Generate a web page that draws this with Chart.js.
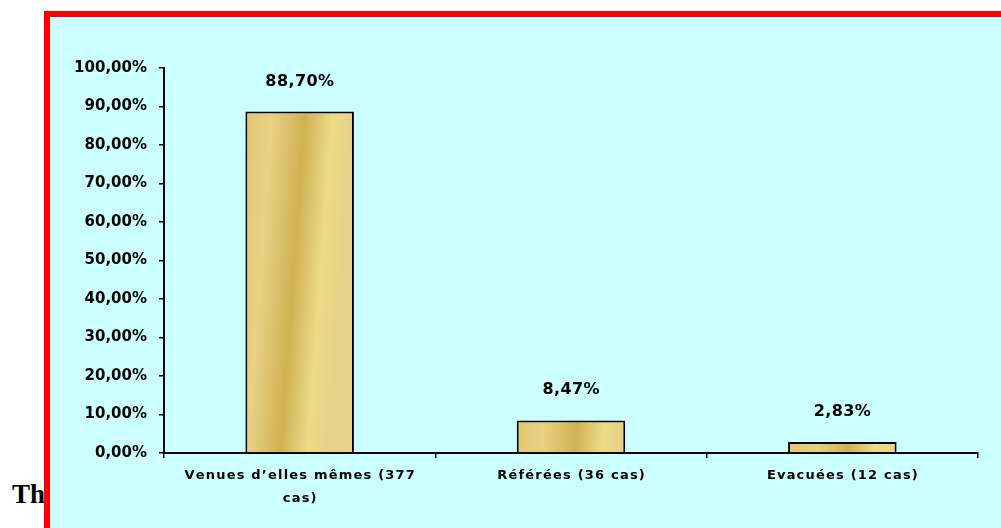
<!DOCTYPE html>
<html>
<head>
<meta charset="utf-8">
<script src="https://cdn.jsdelivr.net/npm/chart.js@4/dist/chart.umd.min.js"></script>
<style>
  html, body { margin: 0; padding: 0; background: #ffffff; width: 1001px; height: 528px; overflow: hidden; }
  #note { position: absolute; left: 12px; top: 479px; font-family: "Liberation Serif", "Times New Roman", serif; font-weight: bold; font-size: 27px; color: #000; white-space: nowrap; }
  #box { position: absolute; left: 44px; top: 11px; width: 1000px; height: 560px; border: 6px solid #ff0000; background: #ccffff; }
  #wrap { position: absolute; left: 0; top: 0; width: 951px; height: 511px; }
</style>
</head>
<body>
<div id="note">The</div>
<div id="box">
  <div id="wrap"><canvas id="c" width="951" height="511"></canvas></div>
</div>
<script>
const categories = [["Venues d’elles mêmes (377", "cas)"], "Référées (36 cas)", "Evacuées (12 cas)"];
const values = [88.70, 8.47, 2.83];
const valueLabels = ["88,70%", "8,47%", "2,83%"];
const yTicks = ["0,00%", "10,00%", "20,00%", "30,00%", "40,00%", "50,00%", "60,00%", "70,00%", "80,00%", "90,00%", "100,00%"];

function spacedText(ctx, text, cx, y, spacing) {
  const chars = Array.from(text);
  const widths = chars.map(c => ctx.measureText(c).width);
  const total = widths.reduce((a, b) => a + b, 0) + spacing * (chars.length - 1);
  let x = cx - total / 2;
  ctx.textAlign = 'left';
  chars.forEach((c, i) => { ctx.fillText(c, x, y); x += widths[i] + spacing; });
}

function barFill(context) {
  const chart = context.chart;
  const xs = chart.scales.x, ys = chart.scales.y;
  if (!xs || !ys || !xs.width) return '#d8bd62';
  const i = context.dataIndex;
  const center = xs.getPixelForValue(i);
  const w = (xs.width / categories.length) * 0.4;
  const x0 = center - w / 2, x1 = center + w / 2;
  const top = ys.getPixelForValue(values[i]);
  const g = chart.ctx.createLinearGradient(x0, top, x1, top + 8);
  g.addColorStop(0, '#e0c772');
  g.addColorStop(0.25, '#e7d283');
  g.addColorStop(0.55, '#d0b152');
  g.addColorStop(0.8, '#eddb87');
  g.addColorStop(1, '#e6d288');
  return g;
}

const labelPlugin = {
  id: 'labels',
  afterDraw(chart) {
    const ctx = chart.ctx;
    const meta = chart.getDatasetMeta(0);
    const xs = chart.scales.x;
    ctx.save();
    ctx.fillStyle = '#000';
    ctx.textBaseline = 'alphabetic';
    ctx.font = 'bold 16px "DejaVu Sans"';
    meta.data.forEach((bar, i) => {
      spacedText(ctx, valueLabels[i], bar.x, bar.y - 26, 0.4);
    });
    ctx.font = 'bold 13px "DejaVu Sans"';
    categories.forEach((lab, i) => {
      const lines = Array.isArray(lab) ? lab : [lab];
      const cx = xs.getPixelForTick(i);
      lines.forEach((ln, j) => spacedText(ctx, ln, cx, xs.top + 26 + j * 23, 1.2));
    });
    ctx.restore();
  }
};

new Chart(document.getElementById('c'), {
  type: 'bar',
  data: {
    labels: categories,
    datasets: [{
      data: values,
      backgroundColor: barFill,
      borderColor: '#000000',
      borderWidth: 2,
      borderSkipped: 'start',
      barPercentage: 0.4,
      categoryPercentage: 1.0
    }]
  },
  options: {
    responsive: false,
    animation: false,
    devicePixelRatio: 1,
    layout: { padding: { top: 51, right: 23, left: 0, bottom: 0 } },
    plugins: { legend: { display: false }, tooltip: { enabled: false } },
    scales: {
      x: {
        grid: { offset: true, drawOnChartArea: false, tickLength: 5, color: '#000', lineWidth: 1.5 },
        border: { color: '#000', width: 2 },
        ticks: { color: 'rgba(0,0,0,0)', font: { family: 'DejaVu Sans', weight: 'bold', size: 12 }, padding: 7, maxRotation: 0, autoSkip: false },
        afterFit(s) { s.height = 75; }
      },
      y: {
        min: 0, max: 100,
        grid: { drawOnChartArea: false, tickLength: 5, color: '#000', lineWidth: 1.5 },
        border: { color: '#000', width: 2 },
        ticks: {
          stepSize: 10,
          color: '#000',
          font: { family: 'DejaVu Sans', weight: 'bold', size: 15 },
          padding: 12,
          callback: (v) => yTicks[Math.round(v / 10)]
        },
        afterFit(s) { s.width = 114; }
      }
    }
  },
  plugins: [labelPlugin]
});
</script>
</body>
</html>
